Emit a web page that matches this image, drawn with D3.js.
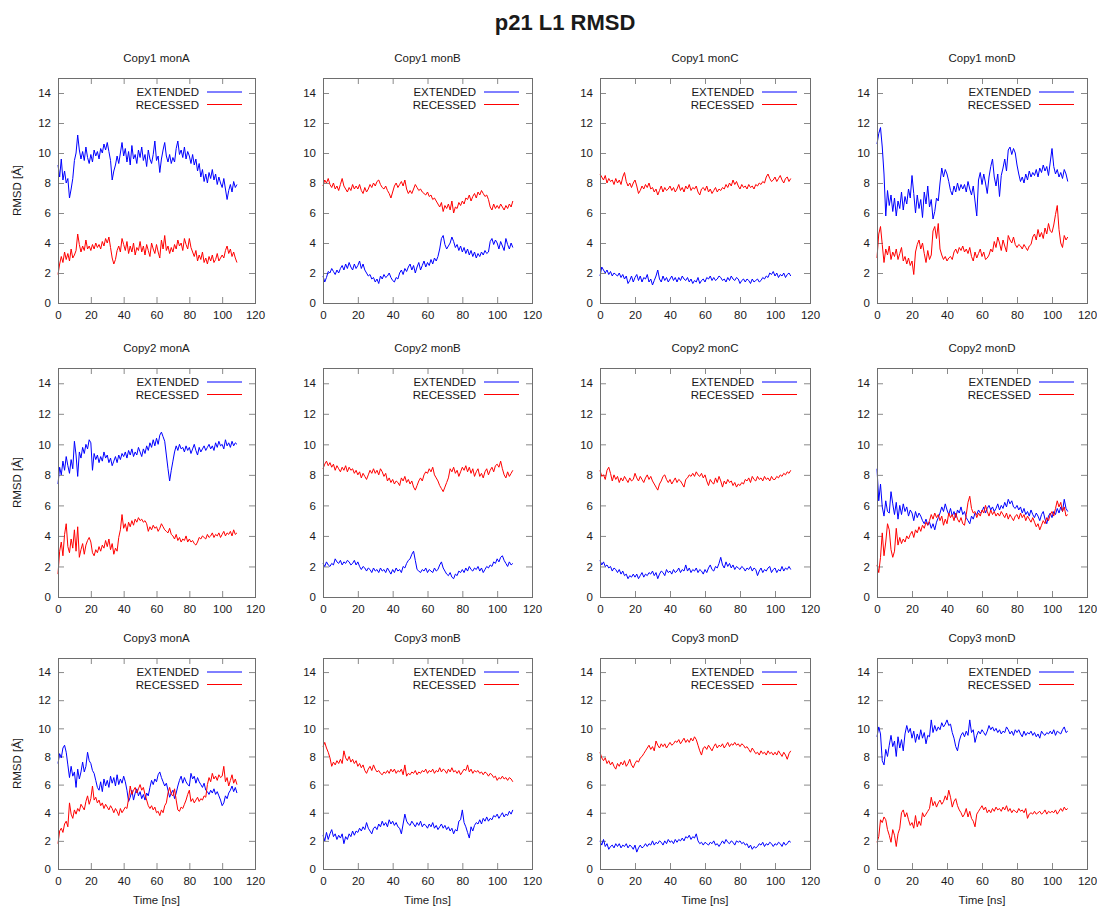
<!DOCTYPE html>
<html>
<head>
<meta charset="utf-8">
<script src="https://cdn.jsdelivr.net/npm/d3@7/dist/d3.min.js"></script>
<style>
  html, body { margin: 0; padding: 0; background: #fff; }
  svg { display: block; }
  text { font-family: "Liberation Sans", Arial, sans-serif; fill: #1a1a1a; }
</style>
</head>
<body>
<svg id="chart" width="1097" height="909"></svg>
<script>
// RMSD of the p21 L1 loop, one frame per ns (0..109 ns)
const timeNs = d3.range(0, 110);

const panelTitles = [
  "Copy1 monA", "Copy1 monB", "Copy1 monC", "Copy1 monD",
  "Copy2 monA", "Copy2 monB", "Copy2 monC", "Copy2 monD",
  "Copy3 monA", "Copy3 monB", "Copy3 monD", "Copy3 monD"
];
const seriesNames = ["EXTENDED", "RECESSED"];
const xTicks = [0, 20, 40, 60, 80, 100, 120];
const yTicks = [0, 2, 4, 6, 8, 10, 12, 14];

// Copy1 monA
const c1A_ext = [9.2,8.4,9.6,8.2,8.8,8.0,8.3,7.0,7.6,8.3, 9.5,10.0,11.2,10.2,9.6,10.1,9.5,10.4,9.7,9.3,
  9.9,9.4,10.2,9.8,10.1,9.6,10.3,10.0,10.6,10.2, 10.7,10.1,9.5,8.2,8.8,9.2,9.8,9.3,10.0,10.7,
  9.8,10.3,9.4,10.1,9.2,10.5,9.6,9.9,9.3,10.2, 9.7,10.4,9.5,9.9,9.1,10.2,9.6,9.3,9.9,10.8,
  9.5,9.8,8.7,9.6,10.2,10.7,9.8,9.4,9.9,9.3, 9.7,9.4,10.3,10.8,9.9,10.2,9.7,10.4,9.6,10.1,
  9.8,9.3,9.9,9.2,9.6,8.8,9.3,8.4,8.9,8.1, 8.6,8.0,8.7,8.3,8.9,8.2,8.6,7.9,8.4,8.0,
  7.7,8.3,7.6,6.9,7.5,7.9,7.4,8.1,7.7,7.9];
const c1A_rec = [1.9,2.6,3.1,2.7,3.4,2.9,3.3,2.8,3.6,3.0, 3.2,3.5,4.6,3.9,3.4,3.8,3.5,4.2,3.6,3.8,
  3.5,3.9,3.6,4.0,3.7,3.9,3.6,4.1,3.8,4.3, 4.0,4.4,3.7,3.0,2.6,2.9,3.5,3.8,3.4,4.3,
  3.9,3.5,4.1,3.3,3.8,3.4,4.0,3.2,3.7,3.5, 4.1,3.4,3.8,3.2,3.9,3.5,3.1,4.0,3.6,3.3,
  3.9,3.4,3.0,4.2,3.6,4.5,3.5,3.8,3.3,3.7, 3.4,3.9,3.6,4.2,3.8,4.0,3.5,4.3,3.9,3.6,
  4.3,3.7,3.4,3.1,3.5,2.8,3.2,2.9,3.4,2.7, 3.0,2.6,3.1,2.8,3.2,2.7,2.9,3.3,2.8,3.0,
  3.2,3.0,3.5,3.8,3.3,3.6,3.1,3.4,3.0,2.7];

// Copy1 monB
const c1B_ext = [1.8,1.4,1.7,2.1,2.0,2.3,2.1,1.9,2.2,2.0, 2.3,2.5,2.2,2.6,2.3,2.7,2.4,2.2,2.6,2.3,
  2.5,2.8,2.3,2.6,2.2,2.0,1.8,1.9,1.6,1.7, 1.4,1.6,1.3,1.8,1.6,1.9,1.7,1.8,2.0,1.7,
  1.5,1.4,1.7,1.6,2.0,2.2,1.9,2.3,2.1,2.4, 2.6,2.2,2.5,2.0,2.4,2.7,2.2,2.5,2.8,2.4,
  2.7,2.5,2.9,2.6,3.0,2.8,3.1,3.6,4.3,4.5, 3.9,3.6,3.8,4.0,4.4,4.1,3.7,3.9,3.5,3.8,
  3.4,3.7,3.3,3.6,3.2,3.5,3.1,3.4,3.0,3.3, 3.1,3.4,3.2,3.5,3.3,3.4,4.1,4.3,3.9,4.2,
  4.0,3.6,4.1,3.8,3.5,4.3,3.9,3.6,4.0,3.7];
const c1B_rec = [7.8,8.2,8.0,8.3,7.9,7.7,8.0,7.6,7.8,7.5, 7.9,8.3,7.8,7.6,7.4,7.7,7.5,7.9,7.6,7.8,
  7.6,7.9,7.5,7.3,7.7,7.4,7.6,7.9,7.7,8.0, 7.8,8.1,8.2,7.9,7.7,7.6,7.8,7.5,7.3,7.0,
  7.4,7.8,8.0,7.7,7.9,8.1,7.8,8.2,7.6,7.3, 7.5,7.3,7.6,7.9,7.7,7.5,7.6,7.4,7.3,7.2,
  7.4,7.1,7.2,6.9,7.0,6.8,6.6,6.4,6.7,6.1, 6.5,6.3,6.6,6.2,6.8,6.0,6.4,6.3,6.7,6.5,
  6.8,6.6,7.0,6.9,7.2,6.8,7.1,7.3,7.0,7.4, 7.2,7.5,7.3,7.1,7.2,6.9,6.4,6.2,6.6,6.3,
  6.5,6.3,6.6,6.4,6.2,6.5,6.3,6.6,6.4,6.8];

// Copy1 monC
const c1C_ext = [1.8,2.4,2.2,2.0,2.2,1.9,2.1,1.8,2.0,1.9, 1.8,2.0,1.7,1.9,1.6,1.8,1.3,1.5,1.8,1.4,
  1.7,1.9,1.5,1.8,1.4,1.7,1.6,1.9,1.4,1.6, 1.2,1.5,1.8,2.2,1.6,1.4,1.8,1.5,1.7,1.4,
  1.6,1.8,1.5,1.7,1.4,1.7,1.5,1.8,1.6,1.5, 1.7,1.4,1.6,1.3,1.5,1.4,1.7,1.3,1.5,1.6,
  1.4,1.7,1.6,1.8,1.5,1.7,1.5,1.6,1.8,1.7, 1.5,1.6,1.4,1.7,1.5,1.8,1.6,1.5,1.7,1.6,
  1.3,1.5,1.6,1.4,1.6,1.5,1.3,1.6,1.4,1.5, 1.6,1.4,1.5,1.7,1.6,1.8,1.7,2.0,1.9,2.1,
  1.8,2.0,1.7,1.9,1.8,2.0,1.7,1.9,2.0,1.8];
const c1C_rec = [8.6,8.4,8.2,8.5,8.0,8.3,8.1,8.2,7.9,8.3, 8.0,8.2,7.9,8.4,8.7,8.1,7.8,8.0,7.7,8.0,
  8.2,7.8,7.3,7.5,7.8,7.6,7.9,7.7,8.0,7.6, 7.7,7.4,7.6,7.2,7.5,7.8,7.4,7.7,7.5,7.6,
  7.8,7.5,7.7,7.4,7.6,7.9,7.5,7.7,7.4,7.8, 7.6,7.9,7.5,7.7,7.6,7.8,7.4,7.2,7.6,7.7,
  7.5,7.8,7.4,7.6,7.3,7.5,7.7,7.4,7.6,7.5, 7.7,7.6,7.9,7.7,8.0,7.8,8.2,7.9,8.1,7.8,
  7.6,7.9,7.7,7.8,7.6,7.9,7.7,7.8,7.6,7.9, 7.8,8.0,7.9,8.1,8.0,8.4,8.6,8.3,8.1,8.2,
  8.4,8.1,8.3,8.5,8.2,8.0,8.3,8.4,8.1,8.3];

// Copy1 monD
const c1D_ext = [10.6,11.3,11.7,10.4,8.6,5.8,7.5,6.5,7.2,6.1, 7.0,5.8,6.8,6.3,7.4,6.2,7.1,6.6,7.6,7.0,
  8.5,7.3,6.0,7.2,6.3,6.9,5.7,7.4,6.6,7.8, 6.4,6.9,5.6,6.1,7.0,6.8,8.0,9.0,8.4,8.9,
  8.6,8.1,7.5,7.2,7.8,7.4,8.0,7.5,7.9,7.6, 7.9,7.4,8.1,7.6,7.2,7.8,6.8,5.8,8.2,8.7,
  7.9,8.6,8.0,7.3,8.4,9.1,9.6,8.4,7.8,8.6, 7.1,8.5,9.0,9.6,8.8,10.2,10.4,9.9,10.3,10.0,
  9.2,8.6,8.1,8.4,8.0,8.6,8.2,8.8,8.4,8.7, 8.5,8.9,8.4,9.0,8.7,9.2,8.8,9.1,8.5,9.4,
  10.3,9.1,8.6,8.9,8.4,8.7,8.3,8.9,8.6,8.1];
const c1D_rec = [3.0,4.6,5.1,3.9,2.7,3.6,3.2,3.8,2.9,3.4, 3.1,3.6,2.9,3.3,3.7,2.8,3.1,2.6,3.0,2.5,
  2.8,1.9,3.4,3.9,4.2,3.6,4.0,3.3,2.7,3.5, 2.9,3.2,4.8,5.1,4.3,5.3,3.6,3.2,2.9,3.1,
  2.8,3.0,3.1,2.9,3.4,3.6,3.3,3.7,3.5,3.8, 3.4,3.6,3.3,3.7,3.1,2.8,3.4,3.0,3.3,3.6,
  3.1,3.4,2.9,3.0,3.2,3.6,3.4,4.1,3.7,4.4, 4.0,3.5,4.2,3.8,3.4,4.5,4.2,4.0,4.4,3.9,
  3.7,3.9,3.8,3.6,3.9,3.7,3.5,3.8,3.9,4.4, 4.6,4.2,4.9,4.4,4.7,4.3,5.0,4.6,5.3,4.8,
  4.7,5.2,5.9,6.5,4.9,4.0,3.7,4.5,4.2,4.4];

// Copy2 monA
const c2A_ext = [7.4,8.5,8.0,8.9,8.3,9.2,8.6,8.1,9.0,8.4, 10.2,9.3,7.9,9.5,9.1,9.8,9.4,10.0,9.7,10.3,
  10.1,8.3,9.4,9.0,9.3,8.8,9.2,8.9,9.5,9.1, 9.3,8.8,9.1,8.6,8.9,9.2,8.8,9.3,9.0,9.4,
  9.2,9.5,9.1,9.6,9.3,9.7,9.2,9.5,9.3,9.8, 9.5,9.2,9.7,9.4,9.9,9.6,10.1,9.8,10.3,9.9,
  10.4,10.0,10.6,10.8,10.5,10.2,9.3,8.4,7.6,8.3, 8.9,9.5,9.9,9.6,10.0,9.7,9.8,9.5,9.9,9.6,
  9.8,9.4,9.7,10.0,9.6,9.3,9.8,9.5,9.7,9.9, 9.6,9.8,10.0,9.7,9.9,9.6,10.1,9.8,10.2,9.9,
  10.0,9.7,10.3,9.9,10.1,9.8,10.2,9.9,10.1,10.0];
const c2A_rec = [1.5,3.0,3.6,2.7,4.1,4.8,3.3,2.9,3.8,3.2, 4.4,3.0,4.6,2.6,3.1,3.5,2.8,3.4,3.7,3.9,
  3.6,2.9,2.7,3.1,2.9,3.3,3.0,3.4,3.2,3.7, 3.3,3.8,3.1,3.5,2.8,3.2,3.0,3.9,4.4,5.4,
  4.5,4.8,4.3,4.9,4.6,5.0,4.7,5.1,4.9,5.2, 5.0,5.1,4.9,5.0,4.8,4.3,4.6,4.4,4.7,4.5,
  4.6,4.3,4.5,4.8,4.6,4.4,4.3,4.2,4.5,4.1, 4.0,3.8,4.1,3.7,3.9,3.6,3.8,3.7,4.0,3.6,
  3.8,3.6,3.7,3.5,3.4,3.6,3.9,3.8,4.0,3.9, 3.8,4.1,3.9,4.0,4.2,3.9,4.1,4.0,4.2,3.9,
  4.1,4.3,4.0,4.2,4.1,4.3,4.0,4.4,4.1,4.2];

// Copy2 monB
const c2B_ext = [2.2,2.0,2.3,2.1,2.0,2.2,2.1,2.5,2.3,2.2, 2.4,2.1,2.3,2.2,2.4,2.3,2.1,2.2,2.4,2.1,
  2.3,2.0,1.8,2.0,1.9,1.7,1.9,1.8,1.6,1.9, 1.7,1.8,1.6,1.9,1.7,1.8,1.6,1.9,1.7,1.5,
  1.8,1.6,1.9,1.7,1.8,1.6,2.0,1.9,2.2,2.4, 2.5,2.8,3.0,2.4,1.8,1.7,1.6,1.8,1.7,1.9,
  1.6,1.8,1.7,1.6,1.9,1.7,1.8,2.1,2.3,1.9, 1.7,1.5,1.4,1.6,1.3,1.2,1.5,1.4,1.7,1.6,
  1.8,1.6,1.9,1.7,2.0,1.8,1.7,1.9,1.8,2.0, 1.7,1.9,1.6,1.8,2.0,1.9,2.1,2.0,2.3,2.2,
  2.5,2.3,2.6,2.7,2.4,2.2,2.0,2.3,2.1,2.2];
const c2B_rec = [8.4,8.7,8.9,8.6,8.8,8.5,8.7,8.3,8.6,8.4, 8.2,8.5,8.3,8.6,8.2,8.5,8.3,8.4,8.1,8.3,
  8.0,8.2,7.8,8.1,7.9,7.7,8.0,8.3,8.1,8.4, 8.1,8.3,8.0,8.4,8.2,7.9,8.1,7.6,7.8,7.5,
  7.7,7.4,7.6,7.5,7.3,7.8,7.6,7.9,7.5,7.7, 7.4,7.6,7.2,7.0,7.3,7.6,7.8,7.6,8.0,8.2,
  8.1,8.4,8.2,8.5,8.0,7.8,7.6,7.3,7.1,6.9, 7.2,7.5,7.8,8.4,8.2,8.5,8.1,8.3,7.9,8.2,
  8.5,8.3,8.6,8.2,8.5,8.1,8.4,7.9,8.2,8.4, 7.9,8.1,7.8,8.2,8.4,8.0,8.3,8.5,8.2,8.6,
  8.7,8.5,8.9,8.4,8.0,7.8,8.2,7.9,8.1,8.3];

// Copy2 monC
const c2C_ext = [2.4,2.1,2.3,2.0,2.1,1.9,2.0,1.7,1.9,1.8, 1.6,1.8,1.5,1.7,1.4,1.5,1.2,1.4,1.3,1.5,
  1.3,1.5,1.2,1.4,1.6,1.3,1.5,1.4,1.6,1.5, 1.7,1.4,1.6,1.2,1.5,1.7,1.6,1.4,1.8,1.6,
  1.7,1.5,1.8,1.6,1.7,1.9,1.6,1.8,1.7,2.1, 1.7,1.9,1.6,1.8,1.7,1.9,1.6,1.8,1.7,1.5,
  1.8,1.6,1.9,2.1,1.8,1.7,2.0,1.9,2.2,2.6, 2.1,1.9,2.3,2.0,2.2,1.9,2.1,1.8,2.0,1.9,
  1.8,2.0,1.9,1.7,1.9,1.8,2.0,1.7,1.9,1.8, 1.4,1.7,1.9,1.6,1.8,1.7,1.9,2.0,1.6,1.8,
  1.9,1.6,1.8,1.7,2.0,1.7,1.9,1.8,2.0,1.8];
const c2C_rec = [8.3,7.9,8.0,7.7,8.3,8.5,8.1,7.6,8.0,7.7, 7.9,7.5,7.8,7.6,7.9,7.7,7.5,7.8,7.6,7.7,
  8.1,7.8,7.6,7.9,7.7,7.5,7.8,8.0,7.7,7.9, 7.6,7.4,7.2,7.0,7.4,7.6,7.9,8.0,7.7,7.5,
  7.7,7.4,7.6,7.8,7.5,7.7,7.6,7.4,7.2,7.7, 7.8,8.0,7.9,8.1,7.9,8.2,8.0,7.9,8.1,7.8,
  8.0,7.6,7.3,7.7,7.5,7.4,7.8,7.5,7.9,7.6, 7.2,7.6,7.4,7.7,7.5,7.6,7.3,7.5,7.2,7.4,
  7.3,7.5,7.4,7.7,7.6,7.8,7.5,7.9,7.7,7.6, 7.9,7.7,7.8,7.6,7.9,7.7,7.8,7.6,7.9,7.7,
  7.7,7.9,7.8,8.0,7.9,8.1,8.0,8.2,8.1,8.3];

// Copy2 monD
const c2D_ext = [8.4,6.3,7.4,5.9,5.3,6.3,5.6,5.5,6.9,6.1, 5.4,6.2,5.1,6.0,5.4,6.1,5.6,5.9,5.3,5.7,
  5.5,5.0,5.6,5.2,5.5,5.3,5.0,4.8,5.1,4.7, 4.9,4.5,4.8,4.4,4.9,5.2,5.5,5.9,5.6,6.1,
  5.7,5.4,5.8,5.3,5.6,5.2,5.7,5.5,5.9,5.4, 5.6,5.2,5.0,4.8,5.3,5.1,5.5,5.4,5.7,5.5,
  5.6,5.9,5.5,5.8,6.0,5.7,5.9,5.6,5.8,6.1, 5.7,6.0,5.8,6.2,5.9,6.4,6.1,6.3,5.9,5.8,
  6.0,5.7,5.9,5.5,5.8,5.4,5.6,5.3,5.7,5.4, 5.2,5.5,5.3,5.0,5.4,5.6,5.1,4.8,5.3,5.5,
  5.2,5.6,5.4,5.8,5.5,5.9,5.6,6.4,5.8,5.6];
const c2D_rec = [2.1,1.6,2.6,4.2,2.7,3.6,4.8,4.4,3.1,2.6, 3.0,4.5,3.4,3.9,3.5,3.8,3.6,4.0,3.8,4.1,
  4.3,3.9,4.4,4.2,4.6,4.3,4.7,4.5,4.9,4.7, 5.0,5.4,5.1,5.5,5.2,5.4,5.0,5.3,4.7,5.1,
  4.8,5.5,5.2,5.4,5.0,5.5,5.1,4.9,5.2,4.8, 4.7,5.4,6.2,6.6,5.8,5.5,5.6,5.2,5.5,5.3,
  5.7,5.5,6.0,5.6,5.3,5.7,5.4,5.6,5.3,5.5, 5.3,5.6,5.4,5.2,5.5,5.1,5.4,5.2,5.0,5.3,
  5.4,5.1,5.5,5.2,5.4,5.0,5.3,5.1,4.9,5.2, 4.9,4.6,4.8,4.4,4.7,5.0,4.8,5.2,5.0,5.4,
  5.6,5.3,5.8,6.3,5.9,6.2,5.6,5.9,5.3,5.4];

// Copy3 monA
const c3A_ext = [7.5,8.2,7.9,8.6,8.8,8.3,7.4,6.5,7.3,6.6, 6.9,5.8,7.1,6.4,6.9,7.6,6.9,7.3,8.3,7.7,
  7.5,7.0,6.8,6.3,5.8,5.6,6.2,5.5,6.4,5.9, 6.3,5.8,6.6,6.1,6.5,5.9,6.7,6.0,6.4,6.1,
  6.6,6.2,5.6,4.8,5.1,5.6,4.9,5.4,5.7,5.2, 5.5,5.0,5.3,4.9,5.4,5.2,5.8,6.3,6.0,6.4,
  6.2,6.7,6.9,6.5,6.2,5.9,6.1,5.6,5.1,5.4, 5.6,5.0,5.4,5.9,6.3,6.6,6.1,6.5,6.2,6.0,
  5.9,6.8,6.4,6.6,6.1,6.5,6.2,6.0,5.8,6.1, 5.6,5.5,5.3,5.6,5.4,5.7,5.3,5.5,5.2,4.9,
  4.5,4.7,5.2,5.0,5.4,5.6,5.9,5.5,5.8,5.4];
const c3A_rec = [1.8,2.7,2.9,2.6,3.2,3.4,3.0,4.7,3.9,3.6, 4.2,3.9,4.3,4.1,4.6,4.4,4.2,4.8,5.2,4.6,
  5.0,5.9,4.9,5.1,4.7,4.9,4.5,4.7,4.3,4.6, 4.4,4.2,4.5,4.3,4.0,4.3,4.1,3.8,4.3,4.0,
  4.2,4.4,4.3,5.0,5.9,5.3,5.6,5.8,5.4,5.7, 6.0,5.6,5.8,5.3,4.9,4.5,4.3,4.5,4.2,4.4,
  4.0,4.1,3.8,4.2,4.0,4.5,4.7,5.4,5.8,5.3, 5.2,5.7,4.9,4.2,4.1,4.4,4.3,4.6,4.9,5.3,
  5.6,4.8,5.0,4.7,4.9,5.1,4.8,5.0,4.9,5.2, 5.1,6.0,6.5,6.2,6.8,6.4,6.6,6.3,6.7,6.5,
  6.6,7.3,6.2,6.5,5.9,6.3,6.7,6.1,6.4,6.0];

// Copy3 monB
const c3B_ext = [2.4,2.0,2.6,2.1,2.5,2.8,2.3,2.5,2.1,2.4, 2.2,2.5,1.8,2.3,2.1,2.5,2.3,2.7,2.4,2.7,
  2.6,2.9,2.7,3.0,2.8,3.3,2.9,2.7,2.5,2.9, 3.0,2.8,3.2,3.0,3.4,3.1,3.3,3.0,3.5,3.2,
  3.4,3.1,3.3,3.0,2.9,2.5,3.2,3.9,3.4,3.2, 3.1,3.4,3.2,3.0,3.3,3.1,3.4,3.0,3.2,3.1,
  2.9,3.2,3.0,3.3,2.9,3.1,2.8,3.0,3.2,2.9, 3.1,2.8,3.0,2.7,2.9,2.5,2.8,2.7,3.4,3.5,
  4.2,3.3,3.0,2.6,2.2,3.0,2.7,3.1,3.3,3.2, 3.5,3.2,3.6,3.4,3.7,3.4,3.6,3.5,3.8,3.7,
  3.9,3.6,3.8,4.0,3.7,3.9,3.8,4.1,3.9,4.2];
const c3B_rec = [8.7,9.0,8.6,8.3,7.9,7.3,7.6,7.4,7.7,7.5, 7.8,7.5,8.4,7.9,7.7,8.0,7.6,7.8,7.5,7.7,
  7.3,7.5,7.2,7.4,7.0,6.8,7.1,7.3,7.0,7.4, 7.1,6.9,7.0,6.8,6.7,6.9,6.8,7.0,6.8,7.1,
  6.9,7.1,6.8,7.0,6.9,7.1,6.7,7.4,6.6,6.8, 6.7,6.9,6.8,7.0,6.7,6.9,6.8,7.0,6.9,7.1,
  6.8,7.0,6.9,7.1,6.8,7.0,6.9,7.2,6.9,7.1, 7.0,6.8,7.1,6.9,7.2,6.9,7.0,6.8,7.0,6.7,
  6.9,7.1,7.0,7.4,6.9,7.1,6.8,7.0,6.9,7.0, 6.8,6.9,6.7,6.9,6.8,6.6,6.8,6.7,6.5,6.6,
  6.3,6.5,6.4,6.6,6.4,6.5,6.3,6.5,6.4,6.2];

// Copy3 monD (third column)
const c3D_ext = [2.0,1.7,2.1,1.6,1.8,1.4,1.6,1.7,1.5,1.8, 1.6,1.8,1.5,1.7,1.6,1.8,1.5,1.7,1.6,1.4,
  1.7,1.2,1.5,1.7,1.5,1.6,1.8,1.6,1.8,1.7, 2.0,1.7,1.9,1.8,2.0,1.9,1.7,2.0,1.8,2.1,
  1.9,2.0,1.8,2.1,1.9,2.1,2.0,2.2,2.0,2.3, 2.2,2.4,2.1,2.3,2.2,2.5,2.0,1.8,1.9,1.7,
  1.9,1.8,1.7,1.9,1.8,2.0,1.7,1.8,1.6,1.8, 2.0,1.8,2.1,1.9,1.8,2.0,1.9,1.7,2.0,1.9,
  2.0,1.8,1.9,1.7,1.8,1.5,1.7,1.4,1.6,1.5, 1.6,1.8,1.7,1.9,1.6,1.8,1.7,1.9,1.8,1.6,
  1.8,1.7,1.9,1.8,1.6,1.9,1.7,1.8,2.0,1.9];
const c3D_rec = [8.3,7.9,7.7,7.9,7.5,7.7,7.4,7.6,7.3,7.1, 7.5,7.3,7.6,7.4,7.7,7.3,7.5,7.8,7.4,7.2,
  7.5,7.7,7.6,7.9,8.0,8.2,8.4,8.6,8.8,8.5, 8.7,8.4,9.1,8.8,8.6,8.9,8.7,8.9,8.6,8.8,
  9.0,8.8,8.9,9.1,9.0,9.2,8.9,9.1,9.3,9.0, 9.2,9.0,9.3,9.1,9.4,9.2,8.8,8.4,8.1,8.6,
  8.7,8.5,8.8,8.6,8.4,8.7,8.9,8.6,8.8,8.7, 8.9,8.6,8.8,9.0,8.7,8.9,8.8,9.0,8.8,8.9,
  8.7,8.9,8.8,8.6,8.7,8.5,8.3,8.6,8.4,8.2, 8.3,8.1,8.4,8.2,8.3,8.1,8.4,8.2,8.3,8.1,
  8.3,8.1,8.4,8.2,8.0,8.3,8.1,7.8,8.2,8.4];

// Copy3 monD (fourth column)
const c3D2_ext = [9.4,10.1,9.6,7.7,7.4,8.5,8.0,8.8,9.5,8.7, 9.1,8.0,9.4,8.6,9.2,8.4,9.6,10.2,9.7,10.0,
  9.3,9.8,9.0,9.6,9.2,9.9,9.3,9.7,8.9,9.5, 9.4,10.6,9.7,10.2,9.8,10.1,9.9,10.4,10.1,10.3,
  10.6,10.2,10.3,9.7,9.3,8.7,8.4,9.1,9.5,9.7, 9.4,9.8,9.5,10.6,9.7,9.9,9.0,9.5,9.8,9.6,
  9.9,9.7,9.5,9.8,10.2,9.9,10.1,9.8,10.0,9.7, 9.9,9.6,9.8,9.7,10.1,9.9,9.6,9.8,9.5,9.9,
  9.7,9.9,9.6,9.4,9.8,9.5,9.7,9.6,9.8,9.5, 9.7,9.4,9.6,9.3,9.8,9.6,9.5,9.7,9.6,9.8,
  9.6,9.9,9.5,9.8,9.7,9.6,9.9,10.1,9.7,9.8];
const c3D2_rec = [1.9,2.3,3.5,3.3,3.7,3.5,2.8,2.4,1.9,2.8, 2.4,1.6,2.5,2.9,4.0,4.2,3.7,4.0,3.5,3.1,
  3.3,2.9,3.8,3.0,3.4,3.1,4.0,3.7,3.9,4.1, 4.3,5.1,4.5,4.8,4.4,4.7,4.9,4.6,4.8,5.2,
  4.9,5.6,5.1,4.4,4.8,5.0,4.5,4.2,4.0,3.7, 3.9,4.3,3.7,4.1,3.6,3.4,3.0,3.9,4.1,4.3,
  4.5,4.2,4.4,4.0,4.2,4.0,4.3,4.1,4.4,4.2, 4.3,4.1,4.4,4.2,4.5,4.1,4.3,4.0,4.2,4.1,
  4.0,4.3,4.1,4.2,4.0,4.3,3.6,3.9,4.0,3.9, 4.1,3.9,4.0,4.1,3.9,4.0,4.2,3.9,4.1,4.0,
  4.1,4.0,4.2,3.9,4.1,4.3,4.1,4.4,4.2,4.3];

const extendedSeries = [c1A_ext, c1B_ext, c1C_ext, c1D_ext, c2A_ext, c2B_ext, c2C_ext, c2D_ext, c3A_ext, c3B_ext, c3D_ext, c3D2_ext];
const recessedSeries = [c1A_rec, c1B_rec, c1C_rec, c1D_rec, c2A_rec, c2B_rec, c2C_rec, c2D_rec, c3A_rec, c3B_rec, c3D_rec, c3D2_rec];

// ---- layout ----
const colLeft = [58, 323, 600, 877];
const colWidth = [197, 209, 210, 210];
const rowTop = [78, 368, 658];
const rowHeight = [225, 229, 211];
const colors = { EXTENDED: "#0000ff", RECESSED: "#ff0000" };
const borderColor = "#6e6e6e";
const tickColor = "#8a8a8a";
const tickLen = 6;

const svg = d3.select("#chart");

svg.append("text")
  .attr("x", 565).attr("y", 30)
  .attr("text-anchor", "middle")
  .style("font-size", "22px").style("font-weight", "bold")
  .text("p21 L1 RMSD");

panelTitles.forEach((title, i) => {
  const row = Math.floor(i / 4), col = i % 4;
  const w = colWidth[col], h = rowHeight[row];
  const g = svg.append("g").attr("transform", `translate(${colLeft[col]},${rowTop[row]})`);

  const x = d3.scaleLinear().domain([0, 120]).range([0, w]);
  const y = d3.scaleLinear().domain([0, 15]).range([h, 0]);

  // panel title
  g.append("text")
    .attr("x", w / 2).attr("y", -16)
    .attr("text-anchor", "middle")
    .style("font-size", "11.5px")
    .text(title);

  // axes: ticks point inward on all four sides, labels on left and bottom only
  const styleAxis = sel => {
    sel.select(".domain").remove();
    sel.selectAll(".tick line").attr("stroke", tickColor);
    sel.selectAll(".tick text").style("font-size", "11.5px").attr("fill", "#1a1a1a")
      .style("font-family", "'Liberation Sans', Arial, sans-serif");
  };
  g.append("g")
    .call(d3.axisLeft(y).tickValues(yTicks).tickSizeInner(-tickLen).tickSizeOuter(0).tickPadding(7))
    .call(styleAxis);
  g.append("g").attr("transform", `translate(${w},0)`)
    .call(d3.axisRight(y).tickValues(yTicks).tickSizeInner(-tickLen).tickSizeOuter(0).tickFormat(""))
    .call(styleAxis);
  g.append("g").attr("transform", `translate(0,${h})`)
    .call(d3.axisBottom(x).tickValues(xTicks).tickSizeInner(-tickLen).tickSizeOuter(0).tickPadding(8))
    .call(styleAxis);
  g.append("g")
    .call(d3.axisTop(x).tickValues(xTicks).tickSizeInner(-tickLen).tickSizeOuter(0).tickFormat(""))
    .call(styleAxis);

  // data lines
  const line = d3.line().x((d, k) => x(timeNs[k])).y(d => y(d));
  [["EXTENDED", extendedSeries[i]], ["RECESSED", recessedSeries[i]]].forEach(([name, vals]) => {
    g.append("path")
      .datum(vals)
      .attr("fill", "none")
      .attr("stroke", colors[name])
      .attr("stroke-width", 1)
      .attr("stroke-linejoin", "round")
      .attr("d", line);
  });

  // key
  seriesNames.forEach((name, k) => {
    const ky = 14 + k * 12.5;
    g.append("text")
      .attr("x", w - 56).attr("y", ky).attr("dy", "0.35em")
      .attr("text-anchor", "end")
      .style("font-size", "11.5px")
      .text(name);
    g.append("line")
      .attr("x1", w - 48).attr("x2", w - 13)
      .attr("y1", ky).attr("y2", ky)
      .attr("stroke", colors[name]).attr("stroke-width", 1);
  });

  // frame
  g.append("rect")
    .attr("x", 0).attr("y", 0).attr("width", w).attr("height", h)
    .attr("fill", "none").attr("stroke", borderColor).attr("stroke-width", 1)
    .attr("shape-rendering", "crispEdges");

  if (col === 0) {
    g.append("text")
      .attr("transform", `translate(${17 - colLeft[col]},${h / 2}) rotate(-90)`)
      .attr("text-anchor", "middle").attr("dy", "0.35em")
      .style("font-size", "11.5px")
      .text("RMSD [Å]");
  }
  if (row === 2) {
    g.append("text")
      .attr("x", w / 2).attr("y", h + 31).attr("dy", "0.35em")
      .attr("text-anchor", "middle")
      .style("font-size", "11.5px")
      .text("Time [ns]");
  }
});
</script>
</body>
</html>
